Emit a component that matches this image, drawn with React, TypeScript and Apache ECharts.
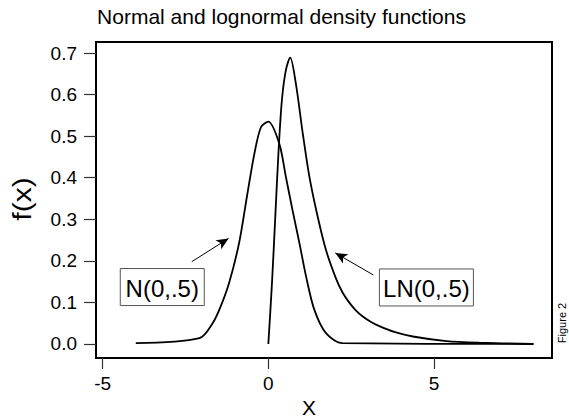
import React, { useEffect, useRef } from "react";
import * as echarts from "echarts";

// Normal density N(0,.5): x positions and f(x) values
const normalX = [-4, -2.08, -1.68, -1.45, -1.18, -0.88, -0.63, -0.42, -0.22, 0, 0.33, 0.53, 0.73, 0.94, 1.14, 1.39, 1.74, 2.24, 8];
const normalY = [0.002, 0.014, 0.05, 0.088, 0.148, 0.244, 0.362, 0.458, 0.522, 0.535, 0.482, 0.402, 0.322, 0.242, 0.162, 0.082, 0.026, 0.002, 0.0];

// Lognormal density LN(0,.5)
const lognormX = [0, 0.11, 0.21, 0.31, 0.41, 0.53, 0.66, 0.83, 1.04, 1.24, 1.49, 1.74, 2.04, 2.24, 2.45, 2.64, 2.85, 3.1, 3.35, 3.8, 4.36, 5.37, 6.37, 8.0];
const lognormY = [0, 0.146, 0.306, 0.466, 0.587, 0.659, 0.689, 0.627, 0.506, 0.402, 0.306, 0.226, 0.158, 0.124, 0.099, 0.081, 0.066, 0.053, 0.043, 0.029, 0.018, 0.007, 0.003, 0.0];

const xTicks = [-5, 0, 5];
const yTicks = [0, 0.1, 0.2, 0.3, 0.4, 0.5, 0.6, 0.7];

// Callout labels (data coordinates) and their arrows
const labelTexts = ["N(0,.5)", "LN(0,.5)"];
const labelCenters = [[-3.2, 0.137], [4.77, 0.136]];
const labelWidths = [84, 94];
const arrowFrom = [[-2.31, 0.198], [3.17, 0.166]];
const arrowTo = [[-1.2, 0.254], [2.02, 0.219]];

const FONT = "'Liberation Sans', Arial, Helvetica, sans-serif";

const pairs = (xs: number[], ys: number[]) => xs.map((x, i) => [x, ys[i]]);

export default function App() {
  const ref = useRef<HTMLDivElement>(null);

  useEffect(() => {
    if (!ref.current) return;
    const chart = echarts.init(ref.current, null, { renderer: "svg" });

    const lineStyle = { color: "#000", width: 1.8 };

    chart.setOption({
      animation: false,
      backgroundColor: "#fff",
      grid: {
        left: 96,
        right: 17,
        top: 42,
        bottom: 60,
        show: true,
        borderColor: "#000",
        borderWidth: 2,
        backgroundColor: "transparent",
      },
      xAxis: {
        type: "value",
        min: -5.2,
        max: 8.56,
        axisLine: { show: true, onZero: false, lineStyle: { color: "#000", width: 2 } },
        axisTick: { show: true, inside: false, length: 11, customValues: xTicks, lineStyle: { color: "#333", width: 1.2 } },
        axisLabel: { customValues: xTicks, margin: 16, color: "#000", fontSize: 19, fontFamily: FONT },
        splitLine: { show: false },
      },
      yAxis: {
        type: "value",
        min: -0.0337,
        max: 0.7265,
        axisLine: { show: true, onZero: false, lineStyle: { color: "#000", width: 2 } },
        axisTick: { show: true, inside: false, length: 12, customValues: yTicks, lineStyle: { color: "#333", width: 1.2 } },
        axisLabel: {
          customValues: yTicks,
          margin: 19,
          color: "#000",
          fontSize: 19,
          fontFamily: FONT,
          formatter: (v: number) => v.toFixed(1),
        },
        splitLine: { show: false },
      },
      series: [
        {
          type: "line",
          data: pairs(normalX, normalY),
          showSymbol: false,
          smooth: 0.3,
          lineStyle,
          markLine: {
            silent: true,
            symbol: ["none", "arrow"],
            symbolSize: [8, 12],
            lineStyle: { color: "#000", width: 1, type: "solid" },
            label: { show: false },
            data: arrowFrom.map((f, i) => [{ coord: f }, { coord: arrowTo[i] }]),
          },
        },
        {
          type: "line",
          data: pairs(lognormX, lognormY),
          showSymbol: false,
          smooth: 0.3,
          lineStyle,
        },
      ],
    });

    const toPx = (p: number[]) => chart.convertToPixel({ gridIndex: 0 }, p) as number[];

    const callouts = labelTexts.map((t, i) => {
      const [cx, cy] = toPx(labelCenters[i]);
      const w = labelWidths[i];
      const h = 37;
      return {
        type: "group",
        x: cx,
        y: cy,
        children: [
          { type: "rect", shape: { x: -w / 2, y: -h / 2, width: w, height: h }, style: { fill: "#fff", stroke: "#555", lineWidth: 1 } },
          { type: "text", style: { text: t, x: 0, y: 1, align: "center", verticalAlign: "middle", font: `24px ${FONT}`, fill: "#000" } },
        ],
      };
    });

    chart.setOption({
      graphic: [
        {
          type: "text",
          x: 281.5,
          y: 16,
          style: { text: "Normal and lognormal density functions", align: "center", verticalAlign: "middle", font: `21px ${FONT}`, fill: "#000" },
        },
        {
          type: "text",
          x: 309,
          y: 407,
          style: { text: "X", align: "center", verticalAlign: "middle", font: `21px ${FONT}`, fill: "#000" },
        },
        {
          type: "text",
          x: 22,
          y: 199,
          rotation: Math.PI / 2,
          scaleX: 1.2,
          style: { text: "f(x)", align: "center", verticalAlign: "middle", font: `25px ${FONT}`, fill: "#000" },
        },
        {
          type: "text",
          x: 562,
          y: 323,
          rotation: Math.PI / 2,
          style: { text: "Figure 2", align: "center", verticalAlign: "middle", font: `11px ${FONT}`, fill: "#000" },
        },
        ...callouts,
      ],
    });

    return () => chart.dispose();
  }, []);

  return <div ref={ref} style={{ position: "fixed", left: 0, top: 0, width: 569, height: 418 }} />;
}
